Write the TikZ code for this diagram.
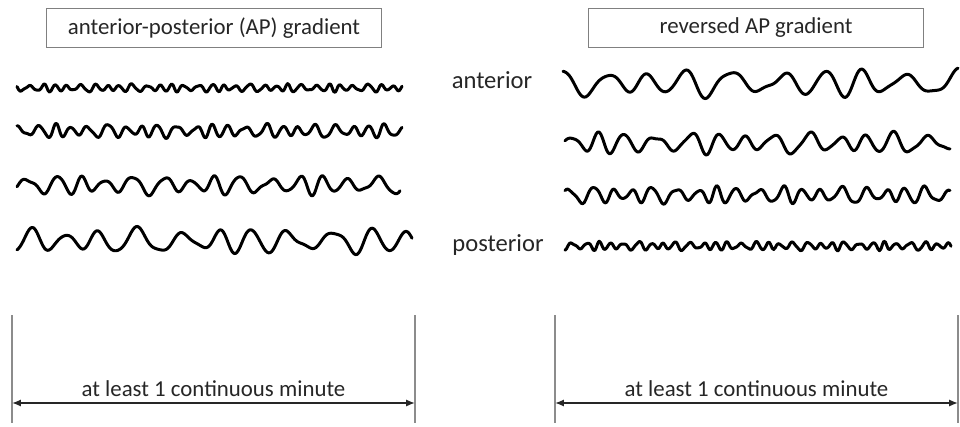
\documentclass[tikz,border=0pt]{standalone}
\usepackage{fontspec}
\setmainfont{Carlito}
\usetikzlibrary{arrows.meta}
% wavy trace: x0, x1, y, amplitude, period, phase
\newcommand{\wavy}[6]{%
  \draw[trace] plot[smooth, domain=#1:#2, samples=260]
    (\x, {#3 - #4*(sin(360*frac(\x/#5)+#6+55*sin(360*frac(\x/(4.3*#5))+#6))
      *(0.82+0.25*sin(360*frac(\x/(3.1*#5))+2*#6))
      + 0.15*sin(360*frac(\x/(0.55*#5))+3*#6))});}
\tikzset{
  titlebox/.style={draw=black!50, line width=0.9pt, minimum width=6.7cm,
    minimum height=0.78cm, text=black!85, font=\fontsize{13}{15}\selectfont},
  sidetext/.style={text=black!85, font=\fontsize{14}{16}\selectfont},
  trace/.style={line width=1.7pt, line cap=round, line join=round},
  bar/.style={draw=black!45, line width=0.8pt},
  span/.style={line width=0.9pt, black!85, {Latex[length=5pt,width=4pt]}-{Latex[length=5pt,width=4pt]}}
}
\begin{document}
\begin{tikzpicture}[x=0.02cm, y=-0.02cm]
\useasboundingbox (0,0) rectangle (960,426);
\node[titlebox] (tl) at (214,28) {anterior-posterior (AP) gradient};
\node[titlebox] (tr) at (756,28) {reversed AP gradient};
% left panel, fast to slow
\wavy{17}{402}{88}{3.8}{13}{0}
\wavy{17}{402}{131}{6.5}{17.5}{50}
\wavy{17}{400}{185}{9}{27}{90}
\wavy{17}{412}{241}{12}{38}{200}
% right panel, slow to fast
\node[sidetext] (ant) at (492,80) {anterior};
\node[sidetext] (post) at (498,245) {posterior};
\wavy{563}{958}{83}{13}{44}{200}
\wavy{565}{950}{143}{10}{30}{120}
\wavy{565}{950}{195}{8}{21}{30}
\wavy{565}{951}{246}{4.2}{13}{70}
% duration markers
\coordinate (la) at (12,315); \coordinate (lb) at (12,423);
\coordinate (lc) at (415,315); \coordinate (ld) at (415,423);
\coordinate (ra) at (555,315); \coordinate (rb) at (555,423);
\coordinate (rc) at (958,315); \coordinate (rd) at (958,423);
\draw[bar] (la) -- (lb);
\draw[bar] (lc) -- (ld);
\draw[bar] (ra) -- (rb);
\draw[bar] (rc) -- (rd);
\coordinate (l1) at (12,403); \coordinate (l2) at (415,403);
\coordinate (r1) at (555,403); \coordinate (r2) at (958,403);
\draw[span] (l1) -- (l2) node[midway, above, sidetext, font=\fontsize{13}{15}\selectfont] (lt) {at least 1 continuous minute};
\draw[span] (r1) -- (r2) node[midway, above, sidetext, font=\fontsize{13}{15}\selectfont] (rt) {at least 1 continuous minute};
\end{tikzpicture}
\end{document}
